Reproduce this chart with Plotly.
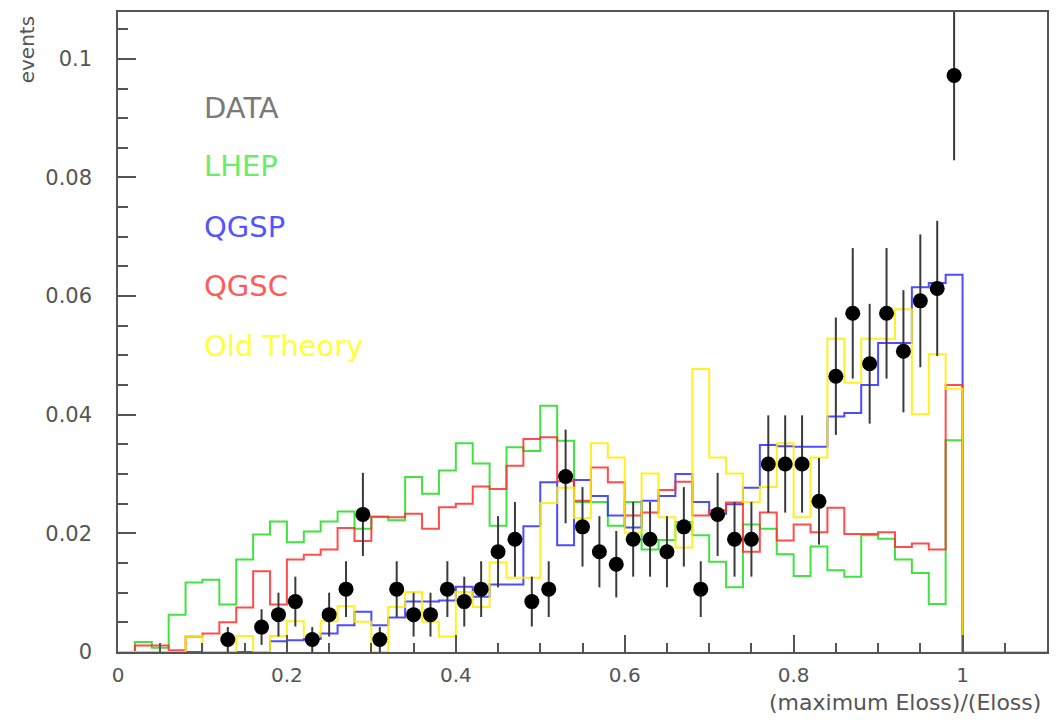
import numpy as np
import plotly.graph_objects as go

# Histogram binning: 55 bins of width 0.02 over [0, 1.1]
BIN_W = 0.02
N_BINS = 55
edges = np.round(np.arange(N_BINS + 1) * BIN_W, 2)

# Simulated distributions (bin contents, normalised)
lhep = [0.0, 0.0017, 0.0007, 0.0063, 0.0117, 0.0122, 0.0080, 0.0156, 0.0198, 0.0220,
        0.0185, 0.0203, 0.0220, 0.0237, 0.0208, 0.0228, 0.0222, 0.0295, 0.0267, 0.0306,
        0.0352, 0.0318, 0.0213, 0.0345, 0.0339, 0.0415, 0.0356, 0.0253, 0.0253, 0.0213,
        0.0253, 0.0173, 0.0189, 0.0219, 0.0197, 0.0152, 0.0109, 0.0215, 0.0208, 0.0165,
        0.0128, 0.0178, 0.0138, 0.0127, 0.0197, 0.0191, 0.0156, 0.0133, 0.0081, 0.0357,
        0.0, 0.0, 0.0, 0.0, 0.0]

qgsp = [0.0, 0.0, 0.0, 0.0, 0.0, 0.0, 0.0, 0.0, 0.0, 0.0018,
        0.0020, 0.0022, 0.0031, 0.0045, 0.0068, 0.0045, 0.0058, 0.0085, 0.0085, 0.0087,
        0.0110, 0.0093, 0.0114, 0.0114, 0.0212, 0.0286, 0.0180, 0.0290, 0.0263, 0.0230,
        0.0210, 0.0255, 0.0263, 0.0300, 0.0253, 0.0233, 0.0249, 0.0277, 0.0349, 0.0347,
        0.0346, 0.0346, 0.0397, 0.0403, 0.0450, 0.0521, 0.0521, 0.0615, 0.0622, 0.0636,
        0.0, 0.0, 0.0, 0.0, 0.0]

qgsc = [0.0, 0.0011, 0.0011, 0.0003, 0.0026, 0.0031, 0.0050, 0.0075, 0.0136, 0.0080,
        0.0156, 0.0164, 0.0173, 0.0209, 0.0187, 0.0228, 0.0227, 0.0233, 0.0208, 0.0244,
        0.0250, 0.0279, 0.0275, 0.0314, 0.0359, 0.0362, 0.0288, 0.0255, 0.0311, 0.0286,
        0.0230, 0.0235, 0.0273, 0.0287, 0.0230, 0.0239, 0.0252, 0.0169, 0.0235, 0.0188,
        0.0215, 0.0202, 0.0243, 0.0199, 0.0199, 0.0202, 0.0177, 0.0183, 0.0173, 0.0450,
        0.0, 0.0, 0.0, 0.0, 0.0]

old_theory = [0.0, 0.0, 0.0, 0.0, 0.0027, 0.0, 0.0, 0.0027, 0.0, 0.0027,
              0.0052, 0.0027, 0.0052, 0.0077, 0.0051, 0.0, 0.0076, 0.0101, 0.0051, 0.0026,
              0.0101, 0.0076, 0.0151, 0.0125, 0.0125, 0.0251, 0.0277, 0.0226, 0.0352, 0.0328,
              0.0201, 0.0301, 0.0227, 0.0176, 0.0477, 0.0328, 0.0301, 0.0253, 0.0278, 0.0352,
              0.0227, 0.0328, 0.0528, 0.0454, 0.0528, 0.0528, 0.0578, 0.0401, 0.0502, 0.0444,
              0.0, 0.0, 0.0, 0.0, 0.0]

# Measured data: bin centres, contents and statistical errors
data_x = [0.13, 0.17, 0.19, 0.21, 0.23, 0.25, 0.27, 0.29, 0.31, 0.33,
          0.35, 0.37, 0.39, 0.41, 0.43, 0.45, 0.47, 0.49, 0.51, 0.53,
          0.55, 0.57, 0.59, 0.61, 0.63, 0.65, 0.67, 0.69, 0.71, 0.73,
          0.75, 0.77, 0.79, 0.81, 0.83, 0.85, 0.87, 0.89, 0.91, 0.93,
          0.95, 0.97, 0.99]
data_y = [0.0021, 0.0042, 0.0063, 0.0085, 0.0021, 0.0063, 0.0106, 0.0232, 0.0021, 0.0106,
          0.0063, 0.0063, 0.0106, 0.0085, 0.0106, 0.0169, 0.0190, 0.0085, 0.0106, 0.0296,
          0.0211, 0.0169, 0.0148, 0.0190, 0.0190, 0.0169, 0.0211, 0.0106, 0.0232, 0.0190,
          0.0190, 0.0317, 0.0317, 0.0317, 0.0254, 0.0465, 0.0571, 0.0486, 0.0571, 0.0507,
          0.0592, 0.0613, 0.0972]
data_err = [0.0021, 0.0030, 0.0037, 0.0042, 0.0021, 0.0037, 0.0047, 0.0070, 0.0021, 0.0047,
            0.0037, 0.0037, 0.0047, 0.0042, 0.0047, 0.0060, 0.0063, 0.0042, 0.0047, 0.0079,
            0.0067, 0.0060, 0.0056, 0.0063, 0.0063, 0.0060, 0.0067, 0.0047, 0.0070, 0.0063,
            0.0063, 0.0082, 0.0082, 0.0082, 0.0073, 0.0099, 0.0110, 0.0101, 0.0110, 0.0103,
            0.0112, 0.0114, 0.0143]

# Legend entries
legend_labels = ["DATA", "LHEP", "QGSP", "QGSC", "Old Theory"]
legend_colors = ["#7a7a7a", "#66ee66", "#5555ff", "#ff5b5b", "#ffff3a"]
legend_y = [0.0918, 0.0819, 0.0717, 0.0617, 0.0516]

GREEN = "#22dd22"
BLUE = "#2f2fff"
RED = "#ff2f2f"
YELLOW = "#ffee00"
AXIS = "#555555"
FONT = "DejaVu Sans"


def step_trace(vals, color):
    return go.Scatter(
        x=edges, y=list(vals) + [vals[-1]], mode="lines",
        line=dict(color=color, width=2, shape="hv"),
        opacity=0.85, showlegend=False, hoverinfo="skip",
    )


fig = go.Figure()
fig.add_trace(step_trace(lhep, GREEN))
fig.add_trace(step_trace(qgsp, BLUE))
fig.add_trace(step_trace(qgsc, RED))
fig.add_trace(step_trace(old_theory, YELLOW))

fig.add_trace(go.Scatter(
    x=data_x, y=data_y, mode="markers",
    marker=dict(color="black", size=15),
    error_y=dict(type="data", array=data_err, visible=True,
                 color="#3a3a3a", thickness=2, width=0),
    showlegend=False, hoverinfo="skip",
))

for lab, col, yy in zip(legend_labels, legend_colors, legend_y):
    fig.add_annotation(x=0.1, y=yy, xref="x", yref="y", text=lab, showarrow=False,
                       xanchor="left", yanchor="middle",
                       font=dict(family=FONT, size=29, color=col))

# Axis titles
fig.add_annotation(x=-0.097, y=0.997, xref="paper", yref="paper", text="events",
                   textangle=-90, showarrow=False, xanchor="center", yanchor="top",
                   font=dict(family=FONT, size=20, color=AXIS))
fig.add_annotation(x=0.996, y=-0.079, xref="paper", yref="paper",
                   text="(maximum Eloss)/(Eloss)", showarrow=False,
                   xanchor="right", yanchor="middle",
                   font=dict(family=FONT, size=22, color=AXIS))

fig.update_layout(
    width=1059, height=720,
    margin=dict(l=118, r=10, t=10, b=68),
    paper_bgcolor="white", plot_bgcolor="white",
    showlegend=False,
)
fig.update_xaxes(
    range=[0, 1.1], tick0=0, dtick=0.2, ticks="inside", ticklen=17, tickwidth=1.5,
    tickcolor=AXIS, showgrid=False, zeroline=False, showline=True, linecolor=AXIS,
    linewidth=1.5, mirror=True, ticklabelstandoff=4,
    tickfont=dict(family=FONT, size=20, color=AXIS),
    minor=dict(dtick=0.05, tick0=0, ticks="inside", ticklen=9, tickwidth=1.5,
               tickcolor=AXIS, showgrid=False),
)
fig.update_yaxes(
    range=[0, 0.1079], tick0=0, dtick=0.02, ticks="inside", ticklen=18, tickwidth=1.5,
    tickcolor=AXIS, showgrid=False, zeroline=False, showline=True, linecolor=AXIS,
    linewidth=1.5, mirror=True, ticklabelstandoff=20,
    tickfont=dict(family=FONT, size=21, color=AXIS),
    minor=dict(dtick=0.005, tick0=0, ticks="inside", ticklen=10, tickwidth=1.5,
               tickcolor=AXIS, showgrid=False),
)

fig.write_html("out.html")
